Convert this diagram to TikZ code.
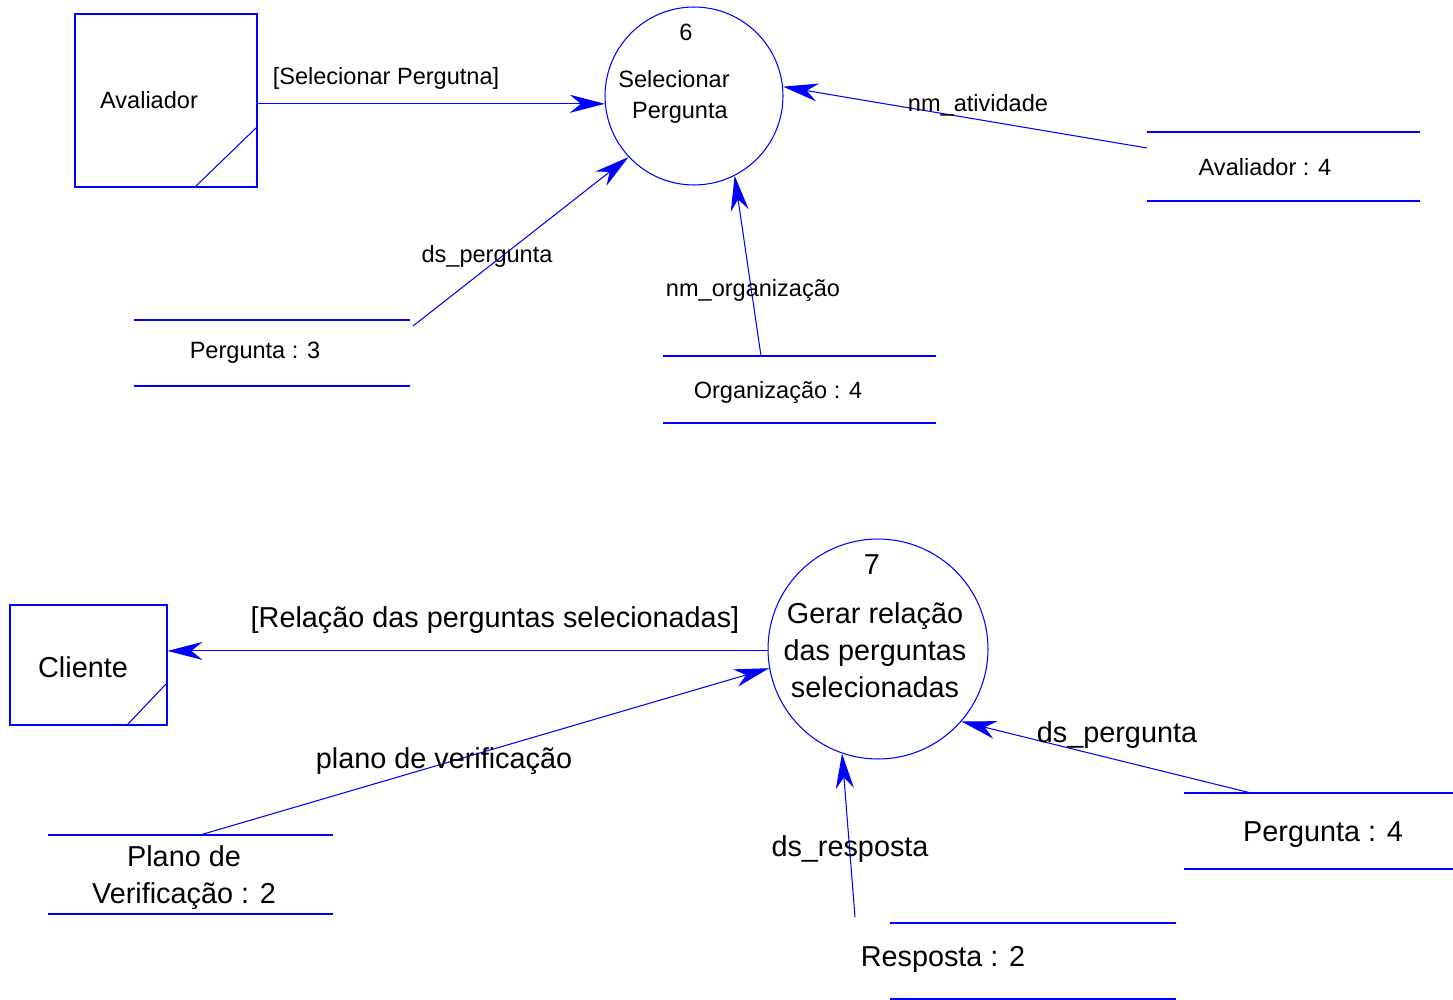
\documentclass[tikz,border=0pt]{standalone}
\usepackage{fontspec}
\setmainfont{Liberation Sans}
\usetikzlibrary{arrows.meta}

\tikzset{
  small/.style={font=\fontsize{13.4}{17.6}\selectfont},
  big/.style={font=\fontsize{16.4}{21}\selectfont},
  entity/.style={draw=blue,line width=0.6pt,rectangle,inner sep=0pt},
  process/.style={draw=blue,line width=0.6pt,circle,inner sep=0pt},
  store/.style={blue,line width=0.6pt},
  flow/.style={blue,line width=0.6pt,-{Stealth[length=0.7cm,width=0.36cm,inset=0.22cm]}}
}

\begin{document}
\begin{tikzpicture}[x=0.02cm,y=-0.02cm]
  \useasboundingbox (0,0) rectangle (1453,1000);

  % --- processo 6
  \node[entity,minimum width=3.64cm,minimum height=3.46cm] (aval) at (166,100.5) {};
  \node[small] (avalt) at (149,100) {Avaliador};
  \draw[store] (196,186) -- (256,128);
  \node[process,minimum size=3.56cm] (p6) at (694,96) {};
  \node[small] (p6n) at (686,32) {6};
  \node[small,align=center] (p6t) at (674,97) {Selecionar\\\hspace*{0.5em}Pergunta};

  \node[small] (s1) at (1265,167) {Avaliador : 4};
  \draw[store] (1147,132) -- (1420,132);
  \draw[store] (1147,201) -- (1420,201);
  \coordinate (s1a) at (1147,148);

  \node[small] (s2) at (255,353) {Pergunta : 3};
  \draw[store] (134,320) -- (410,320);
  \draw[store] (134,386) -- (410,386);
  \coordinate (s2a) at (413,326);

  \node[small] (s3) at (778,392) {Organização : 4};
  \draw[store] (663,356) -- (936,356);
  \draw[store] (663,423) -- (936,423);
  \coordinate (s3a) at (761,356);

  \draw[flow] (aval.east |- p6.185) -- (p6.185);
  \draw[flow] (s1a) -- (p6.6);
  \draw[flow] (s2a) -- (p6.223);
  \draw[flow] (s3a) -- (p6.297);

  \node[small] at (386,78) {[Selecionar Pergutna]};
  \node[small] at (978,105) {nm\_atividade};
  \node[small] at (487,256) {ds\_pergunta};
  \node[small] at (753,290) {nm\_organização};

  % --- processo 7
  \node[entity,minimum width=3.14cm,minimum height=2.4cm] (cli) at (88.5,665) {};
  \node[big] (clit) at (83,667) {Cliente};
  \draw[store] (128,724) -- (166,684);
  \node[process,minimum size=4.4cm] (p7) at (878,649) {};
  \node[big] (p7n) at (872,565) {7};
  \node[big,align=center] (p7t) at (875,650) {Gerar relação\\das perguntas\\selecionadas};

  \node[big,align=center] (s4) at (184,878) {Plano de\\Verificação : 2};
  \draw[store] (48,835) -- (333,835);
  \draw[store] (48,914) -- (333,914);
  \coordinate (s4a) at (200,835);

  \node[big] (s5) at (1323,835) {Pergunta : 4};
  \draw[store] (1184,793) -- (1453,793);
  \draw[store] (1184,869) -- (1453,869);
  \coordinate (s5a) at (1251,793);

  \node[big] (s6) at (943,959) {Resposta : 2};
  \draw[store] (890,923) -- (1176,923);
  \draw[store] (890,999) -- (1176,999);
  \coordinate (s6a) at (855,917);

  \draw[flow] (p7.181) -- (p7.181 -| cli.east);
  \draw[flow] (s4a) -- (p7.190);
  \draw[flow] (s5a) -- (p7.319);
  \draw[flow] (s6a) -- (p7.251);

  \node[big] at (495,620) {[Relação das perguntas selecionadas]};
  \node[big] at (444,761) {plano de verificação};
  \node[big] at (1117,735) {ds\_pergunta};
  \node[big] at (850,849) {ds\_resposta};
\end{tikzpicture}
\end{document}
